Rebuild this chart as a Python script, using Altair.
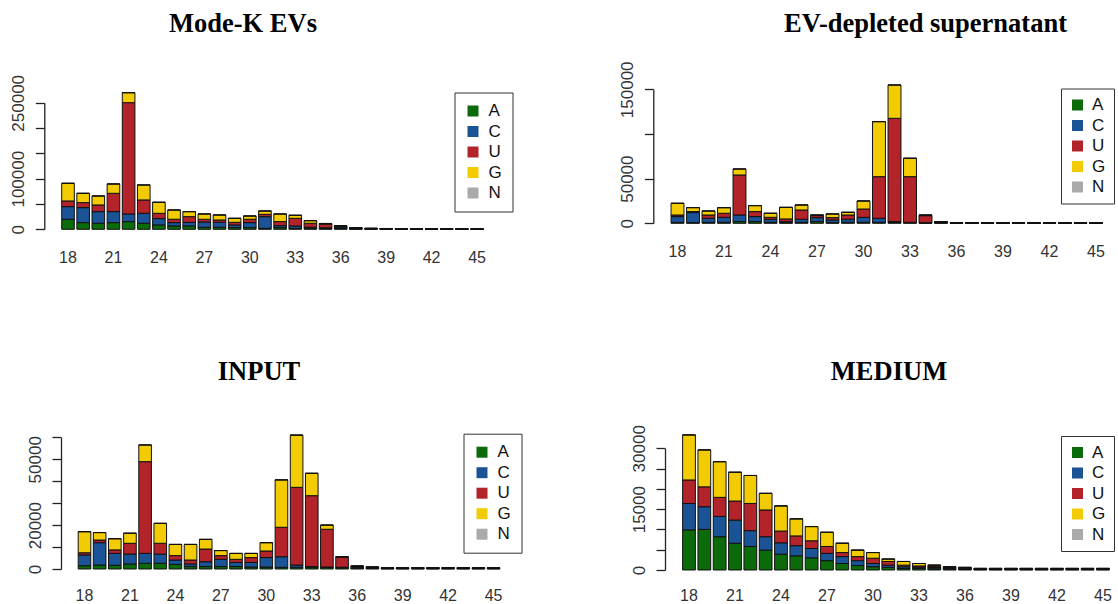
import altair as alt
import pandas as pd

lengths = [18, 19, 20, 21, 22, 23, 24, 25, 26, 27, 28, 29, 30, 31,
           32, 33, 34, 35, 36, 37, 38, 39, 40, 41, 42, 43, 44, 45]
x_labels = [18, 21, 24, 27, 30, 33, 36, 39, 42, 45]
nucleotides = ["A", "C", "U", "G", "N"]
nuc_colors = ["#0b6b0b", "#1b5496", "#b3232a", "#f2cb00", "#aaaaaa"]

# ---- Mode-K EVs ----
modek_A = [19800, 13200, 11900, 13200, 15200, 11900, 8600, 6600, 6600, 4000, 4000, 3300, 3300, 2000,
           3300, 2000, 2000, 1500, 1500, 800, 500, 400, 400, 300, 300, 200, 200, 200]
modek_C = [25000, 29600, 23000, 21700, 15100, 19700, 12500, 6600, 7200, 10500, 9800, 5300, 9900, 23000,
           3900, 4600, 2000, 1500, 3000, 1000, 600, 500, 400, 400, 300, 300, 300, 200]
modek_U = [11200, 9900, 13200, 36200, 220000, 26400, 10500, 6600, 11200, 5300, 4600, 5200, 6600, 4600,
           8000, 15100, 7900, 7000, 1500, 900, 500, 400, 300, 300, 300, 200, 200, 200]
modek_G = [34900, 18400, 17800, 18500, 19700, 29600, 21800, 18400, 9900, 10500, 9900, 7900, 6500, 6600,
           15100, 6000, 5200, 1500, 1000, 500, 400, 300, 300, 200, 200, 200, 200, 100]
modek_N = [0] * 28
modek_ticks = [0, 50000, 100000, 150000, 200000, 250000]
modek_labels = [0, 100000, 250000]

# ---- EV-depleted supernatant ----
evd_A = [1100, 750, 1100, 1100, 1900, 1900, 1100, 750, 1100, 1900, 750, 1100, 1100, 1100,
         1100, 750, 400, 500, 250, 200, 200, 200, 150, 150, 150, 150, 150, 150]
evd_C = [6400, 11200, 4500, 5600, 7400, 5600, 3400, 1100, 3400, 4400, 3000, 3400, 5600, 4500,
         800, 350, 350, 500, 200, 200, 200, 150, 150, 150, 150, 150, 150, 150]
evd_U = [1800, 1200, 3700, 4500, 44800, 5600, 2200, 3000, 10400, 2300, 2600, 4800, 9300, 46600,
         115600, 51100, 7850, 500, 200, 200, 150, 150, 150, 150, 150, 150, 150, 150]
evd_G = [13100, 4400, 4500, 6300, 6700, 6700, 4500, 13000, 5600, 700, 4100, 3000, 9000, 61600,
         37300, 20600, 700, 400, 150, 150, 150, 150, 100, 100, 100, 100, 100, 100]
evd_N = [0] * 28
evd_ticks = [0, 50000, 100000, 150000]
evd_labels = [0, 50000, 150000]

# ---- INPUT ----
inp_A = [1500, 1800, 1700, 2300, 2600, 2600, 2100, 1100, 1100, 1100, 1100, 900, 900, 760,
         760, 900, 760, 600, 400, 250, 150, 150, 150, 150, 150, 150, 150, 150]
inp_C = [4900, 10200, 5400, 4500, 4500, 4200, 2000, 1200, 2200, 3300, 1900, 2100, 4300, 4840,
         1040, 200, 140, 200, 400, 250, 150, 150, 150, 150, 150, 150, 150, 150]
inp_U = [1000, 1200, 1600, 4900, 41800, 4900, 2000, 1800, 5800, 1700, 1400, 2200, 3000, 13400,
         35400, 32300, 17200, 4500, 300, 250, 150, 150, 150, 150, 150, 150, 150, 150]
inp_G = [9600, 3400, 5100, 4600, 7600, 9100, 5100, 7100, 4400, 2300, 2700, 1900, 3800, 21600,
         23800, 10200, 1900, 300, 300, 200, 150, 150, 150, 150, 150, 150, 150, 150]
inp_N = [0] * 28
inp_ticks = [0, 10000, 20000, 30000, 40000, 50000, 60000]
inp_labels = [0, 20000, 50000]

# ---- MEDIUM ----
med_A = [9900, 10000, 8200, 6600, 5800, 4900, 3900, 3500, 3000, 2300, 1600, 1100, 820, 660,
         400, 400, 300, 200, 150, 100, 100, 100, 100, 100, 100, 100, 100, 100]
med_C = [6500, 5600, 5000, 5700, 3900, 3300, 2800, 2500, 2300, 1800, 1700, 1200, 780, 540,
         400, 300, 300, 200, 150, 100, 100, 100, 100, 100, 100, 100, 100, 100]
med_U = [5800, 4900, 4700, 4700, 6700, 6600, 2900, 2400, 1900, 1700, 1000, 1000, 1300, 900,
         400, 300, 300, 200, 200, 100, 100, 100, 100, 100, 100, 100, 100, 100]
med_G = [11100, 9100, 8800, 7100, 6900, 4100, 6200, 4200, 3500, 3500, 2300, 1600, 1400, 600,
         900, 600, 300, 200, 150, 100, 100, 100, 100, 100, 100, 100, 100, 100]
med_N = [0] * 28
med_ticks = [0, 5000, 10000, 15000, 20000, 25000, 30000]
med_labels = [0, 15000, 30000]

CELL_W, CELL_H = 559, 302
LABEL_FONT = "Liberation Sans"


def make_panel(title, series, y_ticks, y_labels, geo):
    rows = []
    for i, nuc in enumerate(nucleotides):
        for length, v in zip(lengths, series[i]):
            rows.append({"length": length, "nuc": nuc, "ord": i, "count": v})
    df = pd.DataFrame(rows)

    step = geo["step"]
    start = geo["x18"] - step * 5 / 12
    end = start + step * (len(lengths) - 1 / 6)

    y_expr = f"indexof({y_labels}, datum.value) >= 0 ? format(datum.value, 'd') : ''"
    x_expr = f"indexof({x_labels}, datum.value) >= 0 ? datum.label : ''"

    return alt.Chart(
        df,
        title=alt.TitleParams(
            text=title, anchor="start", frame="group", align="center",
            dx=geo["tx"], offset=geo["toff"], baseline="middle",
            font="Liberation Serif", fontSize=26.5, fontWeight="bold", color="#000000",
        ),
    ).mark_bar(stroke="#111111", strokeWidth=1).encode(
        x=alt.X(
            "length:O",
            scale=alt.Scale(domain=lengths, range=[start, end], paddingInner=1 / 6, paddingOuter=0),
            axis=alt.Axis(
                orient="bottom", offset=geo["xlab"] - CELL_H, domain=False, ticks=False,
                tickSize=0, labelAngle=0, labelAlign="center", labelBaseline="middle",
                labelPadding=0, labelExpr=x_expr, labelFont=LABEL_FONT, labelFontSize=16,
                labelColor="#333333", labelOverlap=False, labelFlush=False, grid=False,
                title=None, minExtent=0,
            ),
        ),
        y=alt.Y(
            "count:Q",
            stack="zero",
            scale=alt.Scale(domain=[0, y_ticks[-1]], range=[geo["y0"], geo["ytop"]], nice=False),
            axis=alt.Axis(
                orient="left", offset=-geo["ax"], values=y_ticks, labelExpr=y_expr,
                domain=True, domainColor="#222222", domainWidth=1.3,
                ticks=True, tickColor="#222222", tickWidth=1.3, tickSize=9,
                labelAngle=270, labelAlign="center", labelBaseline="bottom", labelPadding=8,
                labelFont=LABEL_FONT, labelFontSize=17, labelColor="#333333",
                labelOverlap=False, labelFlush=False, grid=False, title=None, minExtent=0,
            ),
        ),
        color=alt.Color(
            "nuc:N",
            scale=alt.Scale(domain=nucleotides, range=nuc_colors),
            legend=alt.Legend(
                orient="none", legendX=geo["lx"], legendY=geo["ly"], title=None,
                symbolType="square", symbolSize=121, symbolStrokeWidth=0, symbolOpacity=1,
                labelFont=LABEL_FONT, labelFontSize=17, labelColor="#111111",
                labelOffset=geo["lo"], padding=geo["lp"], rowPadding=2.5, columnPadding=0,
                strokeColor="#333333", fillColor="#ffffff",
            ),
        ),
        order=alt.Order("ord:Q", sort="ascending"),
    ).properties(width=CELL_W, height=CELL_H)


p1 = make_panel("Mode-K EVs", [modek_A, modek_C, modek_U, modek_G, modek_N], modek_ticks, modek_labels,
                dict(ax=44.3, y0=229.3, ytop=102.8, x18=68, step=15.15, xlab=257,
                     lx=454.5, ly=92.5, lo=7, lp=10, tx=243, toff=-50.5))
p2 = make_panel("EV-depleted supernatant", [evd_A, evd_C, evd_U, evd_G, evd_N], evd_ticks, evd_labels,
                dict(ax=94.3, y0=223.3, ytop=89.3, x18=118.5, step=15.5, xlab=251,
                     lx=502, ly=88.5, lo=6, lp=8, tx=366.5, toff=-50.5))
p3 = make_panel("INPUT", [inp_A, inp_C, inp_U, inp_G, inp_N], inp_ticks, inp_labels,
                dict(ax=61, y0=267, ytop=135.3, x18=84.5, step=15.15, xlab=293,
                     lx=463.5, ly=131.7, lo=7, lp=10, tx=259, toff=-96.5))
p4 = make_panel("MEDIUM", [med_A, med_C, med_U, med_G, med_N], med_ticks, med_labels,
                dict(ax=106, y0=268, ytop=146.3, x18=130, step=15.33, xlab=293,
                     lx=502, ly=134, lo=6, lp=8, tx=330, toff=-96.5))

chart = alt.concat(p1, p2, p3, p4, columns=2, spacing=0, bounds="flush").resolve_scale(
    x="independent", y="independent", color="independent"
).resolve_legend(color="independent").properties(
    padding=0, background="#ffffff"
).configure_view(strokeWidth=0).configure_axis(grid=False)

chart.save("out.html", embed_options={"renderer": "svg", "actions": False})
